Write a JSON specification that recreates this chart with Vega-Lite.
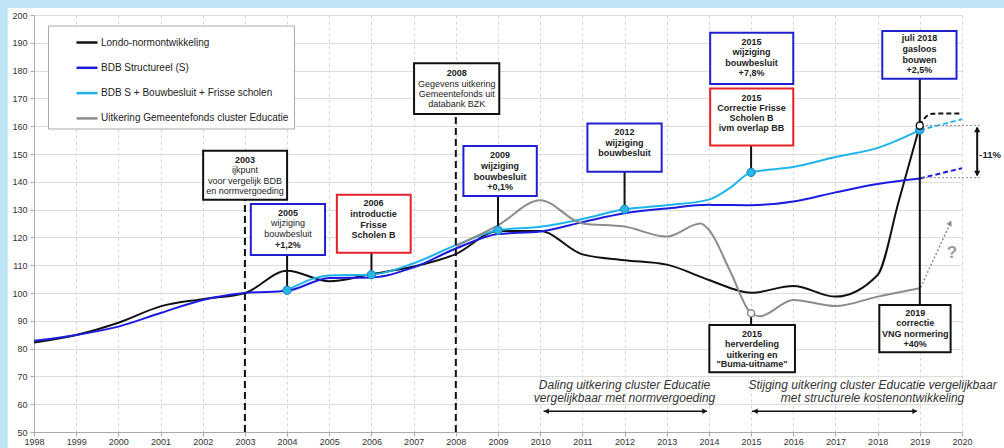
{
  "$schema": "https://vega.github.io/schema/vega-lite/v6.json",
  "width": 928,
  "height": 417,
  "autosize": "none",
  "padding": {"left": 34, "top": 15, "right": 42, "bottom": 16},
  "background": "white",
  "config": {
    "view": {"stroke": null},
    "font": "Liberation Sans",
    "axisX": {
      "values": [1998, 1999, 2000, 2001, 2002, 2003, 2004, 2005, 2006, 2007, 2008, 2009, 2010, 2011, 2012, 2013, 2014, 2015, 2016, 2017, 2018, 2019, 2020],
      "format": "d", "grid": true, "gridDash": [3, 3], "gridColor": "#d4d4d4",
      "labelFontSize": 9, "labelColor": "#333333", "tickColor": "#aaaaaa",
      "domainColor": "#aaaaaa", "tickSize": 4, "labelPadding": 1, "labelFlush": false
    },
    "axisY": {
      "values": [50, 60, 70, 80, 90, 100, 110, 120, 130, 140, 150, 160, 170, 180, 190, 200],
      "grid": true, "gridColor": "#dddddd",
      "labelFontSize": 9, "labelColor": "#333333", "tickColor": "#aaaaaa",
      "domainColor": "#aaaaaa", "tickSize": 4, "labelPadding": 3
    },
    "legend": {
      "orient": "none",
      "legendX": 14,
      "legendY": 10.5,
      "fillColor": "white",
      "strokeColor": "#aaaaaa",
      "padding": 5,
      "symbolType": "stroke",
      "symbolStrokeWidth": 2.5,
      "symbolSize": 441,
      "symbolOffset": 22,
      "labelFontSize": 10,
      "labelColor": "#222222",
      "labelOffset": 2,
      "rowPadding": 8.3,
      "labelLimit": 400
    }
  },
  "datasets": {
    "frame": [
      {"x": 1996, "x2": 2021.5, "y": 202.5, "y2": 212},
      {"x": 1996, "x2": 1997.38, "y": 40, "y2": 212}
    ],
    "vlines": [
      {"x": 2003, "y": 50, "y2": 133.5},
      {"x": 2008, "y": 50, "y2": 164.4}
    ],
    "series": [
      {"series": "Londo-normontwikkeling", "year": 1998, "value": 82.2},
      {"series": "Londo-normontwikkeling", "year": 1999, "value": 84.9},
      {"series": "Londo-normontwikkeling", "year": 2000, "value": 89.3},
      {"series": "Londo-normontwikkeling", "year": 2001, "value": 95.2},
      {"series": "Londo-normontwikkeling", "year": 2002, "value": 97.8},
      {"series": "Londo-normontwikkeling", "year": 2003, "value": 100},
      {"series": "Londo-normontwikkeling", "year": 2004, "value": 108},
      {"series": "Londo-normontwikkeling", "year": 2005, "value": 104.2},
      {"series": "Londo-normontwikkeling", "year": 2006, "value": 106.8},
      {"series": "Londo-normontwikkeling", "year": 2007, "value": 109.5},
      {"series": "Londo-normontwikkeling", "year": 2008, "value": 114},
      {"series": "Londo-normontwikkeling", "year": 2009, "value": 122.3},
      {"series": "Londo-normontwikkeling", "year": 2010, "value": 122.3},
      {"series": "Londo-normontwikkeling", "year": 2011, "value": 113.9},
      {"series": "Londo-normontwikkeling", "year": 2012, "value": 111.8},
      {"series": "Londo-normontwikkeling", "year": 2013, "value": 110.2},
      {"series": "Londo-normontwikkeling", "year": 2014, "value": 104.7},
      {"series": "Londo-normontwikkeling", "year": 2015, "value": 100.1},
      {"series": "Londo-normontwikkeling", "year": 2016, "value": 102.5},
      {"series": "Londo-normontwikkeling", "year": 2017, "value": 98.7},
      {"series": "Londo-normontwikkeling", "year": 2018, "value": 106.5},
      {"series": "Londo-normontwikkeling", "year": 2018.5, "value": 133},
      {"series": "Londo-normontwikkeling", "year": 2019, "value": 160.2},
      {"series": "BDB Structureel (S)", "year": 1998, "value": 82.8},
      {"series": "BDB Structureel (S)", "year": 1999, "value": 84.9},
      {"series": "BDB Structureel (S)", "year": 2000, "value": 87.9},
      {"series": "BDB Structureel (S)", "year": 2001, "value": 92.8},
      {"series": "BDB Structureel (S)", "year": 2002, "value": 97.5},
      {"series": "BDB Structureel (S)", "year": 2003, "value": 100},
      {"series": "BDB Structureel (S)", "year": 2004, "value": 100.8},
      {"series": "BDB Structureel (S)", "year": 2005, "value": 105.4},
      {"series": "BDB Structureel (S)", "year": 2006, "value": 105.6},
      {"series": "BDB Structureel (S)", "year": 2007, "value": 109.2},
      {"series": "BDB Structureel (S)", "year": 2008, "value": 116},
      {"series": "BDB Structureel (S)", "year": 2009, "value": 121.2},
      {"series": "BDB Structureel (S)", "year": 2010, "value": 122.1},
      {"series": "BDB Structureel (S)", "year": 2011, "value": 125.5},
      {"series": "BDB Structureel (S)", "year": 2012, "value": 128.7},
      {"series": "BDB Structureel (S)", "year": 2013, "value": 130.4},
      {"series": "BDB Structureel (S)", "year": 2014, "value": 131.7},
      {"series": "BDB Structureel (S)", "year": 2015, "value": 131.6},
      {"series": "BDB Structureel (S)", "year": 2016, "value": 132.9},
      {"series": "BDB Structureel (S)", "year": 2017, "value": 136.2},
      {"series": "BDB Structureel (S)", "year": 2018, "value": 139.2},
      {"series": "BDB Structureel (S)", "year": 2019, "value": 141.2},
      {"series": "BDB S + Bouwbesluit + Frisse scholen", "year": 2004, "value": 101},
      {"series": "BDB S + Bouwbesluit + Frisse scholen", "year": 2005, "value": 106.3},
      {"series": "BDB S + Bouwbesluit + Frisse scholen", "year": 2006, "value": 106.6},
      {"series": "BDB S + Bouwbesluit + Frisse scholen", "year": 2007, "value": 110.7},
      {"series": "BDB S + Bouwbesluit + Frisse scholen", "year": 2008, "value": 117.2},
      {"series": "BDB S + Bouwbesluit + Frisse scholen", "year": 2009, "value": 122.6},
      {"series": "BDB S + Bouwbesluit + Frisse scholen", "year": 2010, "value": 123.8},
      {"series": "BDB S + Bouwbesluit + Frisse scholen", "year": 2011, "value": 126.6},
      {"series": "BDB S + Bouwbesluit + Frisse scholen", "year": 2012, "value": 130.1},
      {"series": "BDB S + Bouwbesluit + Frisse scholen", "year": 2013, "value": 131.6},
      {"series": "BDB S + Bouwbesluit + Frisse scholen", "year": 2014, "value": 133.6},
      {"series": "BDB S + Bouwbesluit + Frisse scholen", "year": 2014.5, "value": 137.8},
      {"series": "BDB S + Bouwbesluit + Frisse scholen", "year": 2015, "value": 143.4},
      {"series": "BDB S + Bouwbesluit + Frisse scholen", "year": 2016, "value": 145.3},
      {"series": "BDB S + Bouwbesluit + Frisse scholen", "year": 2017, "value": 148.9},
      {"series": "BDB S + Bouwbesluit + Frisse scholen", "year": 2018, "value": 152.2},
      {"series": "BDB S + Bouwbesluit + Frisse scholen", "year": 2019, "value": 158.6},
      {"series": "Uitkering Gemeentefonds cluster Educatie", "year": 2008, "value": 116.9},
      {"series": "Uitkering Gemeentefonds cluster Educatie", "year": 2009, "value": 124.3},
      {"series": "Uitkering Gemeentefonds cluster Educatie", "year": 2010, "value": 133.4},
      {"series": "Uitkering Gemeentefonds cluster Educatie", "year": 2011, "value": 125},
      {"series": "Uitkering Gemeentefonds cluster Educatie", "year": 2012, "value": 123.9},
      {"series": "Uitkering Gemeentefonds cluster Educatie", "year": 2013, "value": 120.3},
      {"series": "Uitkering Gemeentefonds cluster Educatie", "year": 2013.8, "value": 125},
      {"series": "Uitkering Gemeentefonds cluster Educatie", "year": 2014, "value": 122.7},
      {"series": "Uitkering Gemeentefonds cluster Educatie", "year": 2014.5, "value": 108},
      {"series": "Uitkering Gemeentefonds cluster Educatie", "year": 2015, "value": 92.7},
      {"series": "Uitkering Gemeentefonds cluster Educatie", "year": 2015.2, "value": 91.6},
      {"series": "Uitkering Gemeentefonds cluster Educatie", "year": 2016, "value": 97.5},
      {"series": "Uitkering Gemeentefonds cluster Educatie", "year": 2017, "value": 95.3},
      {"series": "Uitkering Gemeentefonds cluster Educatie", "year": 2018, "value": 98.7},
      {"series": "Uitkering Gemeentefonds cluster Educatie", "year": 2019, "value": 101.7}
    ],
    "ext": [
      {"series": "Londo-normontwikkeling", "year": 2019, "value": 160.2},
      {"series": "Londo-normontwikkeling", "year": 2019.12, "value": 163},
      {"series": "Londo-normontwikkeling", "year": 2019.3, "value": 164.5},
      {"series": "Londo-normontwikkeling", "year": 2020, "value": 164.6},
      {"series": "BDB Structureel (S)", "year": 2019, "value": 141.2},
      {"series": "BDB Structureel (S)", "year": 2020, "value": 144.9},
      {"series": "BDB S + Bouwbesluit + Frisse scholen", "year": 2019, "value": 158.6},
      {"series": "BDB S + Bouwbesluit + Frisse scholen", "year": 2020, "value": 162.5}
    ],
    "grayArrow": [
      {"x": 2019.02, "y": 102},
      {"x": 2019.72, "y": 125}
    ],
    "grayArrowHead": [{"x": 2019.72, "y": 125.2}],
    "connectors": [
      {"x": 2004, "y": 113.7, "y2": 101},
      {"x": 2006, "y": 114.5, "y2": 106.6},
      {"x": 2009, "y": 134.9, "y2": 122.6},
      {"x": 2012, "y": 143.6, "y2": 130.1},
      {"x": 2015, "y": 153.1, "y2": 143.4},
      {"x": 2019, "y": 177.1, "y2": 95.7},
      {"x": 2015, "y": 88.5, "y2": 92.7}
    ],
    "dots": [
      {"x": 2004, "y": 101},
      {"x": 2006, "y": 106.6},
      {"x": 2009, "y": 122.6},
      {"x": 2012, "y": 130.1},
      {"x": 2015, "y": 143.4},
      {"x": 2019, "y": 158.6}
    ],
    "openDotGray": [{"x": 2015, "y": 92.7}],
    "openDotBlack": [{"x": 2019, "y": 160.2}],
    "boxes": [
      {"x": 2002.01, "x2": 2004.0, "y": 151.2, "y2": 133.5, "type": "overig"},
      {"x": 2003.14, "x2": 2004.9, "y": 132.0, "y2": 113.7, "type": "bouwbesluit"},
      {"x": 2005.18, "x2": 2006.93, "y": 135.3, "y2": 114.5, "type": "frisse scholen"},
      {"x": 2007.01, "x2": 2009.03, "y": 182.6, "y2": 164.4, "type": "overig"},
      {"x": 2008.18, "x2": 2009.92, "y": 152.9, "y2": 134.9, "type": "bouwbesluit"},
      {"x": 2011.12, "x2": 2012.88, "y": 161.0, "y2": 143.6, "type": "bouwbesluit"},
      {"x": 2014.03, "x2": 2016.0, "y": 193.6, "y2": 175.2, "type": "bouwbesluit"},
      {"x": 2014.03, "x2": 2016.0, "y": 173.6, "y2": 153.1, "type": "frisse scholen"},
      {"x": 2018.11, "x2": 2019.87, "y": 194.2, "y2": 177.1, "type": "bouwbesluit"},
      {"x": 2014.01, "x2": 2016.04, "y": 88.5, "y2": 71.5, "type": "overig"},
      {"x": 2018.04, "x2": 2019.73, "y": 95.7, "y2": 78.7, "type": "overig"}
    ],
    "textBold": [
      {"x": 2003.0, "y": 148.0, "text": "2003"},
      {"x": 2004.02, "y": 128.9, "text": "2005"},
      {"x": 2004.02, "y": 117.2, "text": "+1,2%"},
      {"x": 2006.05, "y": 132.3, "text": "2006"},
      {"x": 2006.05, "y": 128.4, "text": "introductie"},
      {"x": 2006.05, "y": 124.6, "text": "Frisse"},
      {"x": 2006.05, "y": 120.8, "text": "Scholen B"},
      {"x": 2008.02, "y": 179.0, "text": "2008"},
      {"x": 2009.05, "y": 149.6, "text": "2009"},
      {"x": 2009.05, "y": 145.7, "text": "wijziging"},
      {"x": 2009.05, "y": 141.8, "text": "bouwbesluit"},
      {"x": 2009.05, "y": 138.0, "text": "+0,1%"},
      {"x": 2012.0, "y": 158.0, "text": "2012"},
      {"x": 2012.0, "y": 154.1, "text": "wijziging"},
      {"x": 2012.0, "y": 150.5, "text": "bouwbesluit"},
      {"x": 2015.01, "y": 190.4, "text": "2015"},
      {"x": 2015.01, "y": 186.6, "text": "wijziging"},
      {"x": 2015.01, "y": 182.9, "text": "bouwbesluit"},
      {"x": 2015.01, "y": 179.2, "text": "+7,8%"},
      {"x": 2015.01, "y": 170.3, "text": "2015"},
      {"x": 2015.01, "y": 166.7, "text": "Correctie Frisse"},
      {"x": 2015.01, "y": 163.1, "text": "Scholen B"},
      {"x": 2015.01, "y": 159.2, "text": "ivm overlap BB"},
      {"x": 2018.99, "y": 191.6, "text": "juli 2018"},
      {"x": 2018.99, "y": 187.8, "text": "gasloos"},
      {"x": 2018.99, "y": 183.8, "text": "bouwen"},
      {"x": 2018.99, "y": 180.2, "text": "+2,5%"},
      {"x": 2015.02, "y": 85.3, "text": "2015"},
      {"x": 2015.02, "y": 81.7, "text": "herverdeling"},
      {"x": 2015.02, "y": 77.8, "text": "uitkering en"},
      {"x": 2015.02, "y": 74.4, "text": "\"Buma-uitname\""},
      {"x": 2018.89, "y": 92.7, "text": "2019"},
      {"x": 2018.89, "y": 89.1, "text": "correctie"},
      {"x": 2018.89, "y": 85.3, "text": "VNG normering"},
      {"x": 2018.89, "y": 81.5, "text": "+40%"}
    ],
    "textRegular": [
      {"x": 2003.0, "y": 144.2, "text": "ijkpunt"},
      {"x": 2003.0, "y": 140.4, "text": "voor vergelijk  BDB"},
      {"x": 2003.0, "y": 136.7, "text": "en normvergoeding"},
      {"x": 2004.02, "y": 125.1, "text": "wijziging"},
      {"x": 2004.02, "y": 121.2, "text": "bouwbesluit"},
      {"x": 2008.02, "y": 175.2, "text": "Gegevens  uitkering"},
      {"x": 2008.02, "y": 171.6, "text": "Gemeentefonds uit"},
      {"x": 2008.02, "y": 168.0, "text": "databank  BZK"}
    ],
    "bracketH": [
      {"x": 2019.05, "x2": 2020.42, "y": 160.3},
      {"x": 2019.05, "x2": 2020.42, "y": 141.5}
    ],
    "bracketV": [{"x": 2020.36, "y": 142.3, "y2": 159.5}],
    "headsUp": [{"x": 2020.36, "y": 158.8}],
    "headsDown": [{"x": 2020.36, "y": 143.0}],
    "pct": [{"x": 2020.41, "y": 149.6, "text": "-11%"}],
    "spans": [
      {"x": 2010.08, "x2": 2013.95, "y": 57.5},
      {"x": 2015.02, "x2": 2018.93, "y": 57.5}
    ],
    "headsLeft": [{"x": 2010.15, "y": 57.5}, {"x": 2015.1, "y": 57.5}],
    "headsRight": [{"x": 2013.9, "y": 57.5}, {"x": 2018.88, "y": 57.5}],
    "notes": [
      {"x": 2012.0, "y": 66.9, "text": "Daling uitkering cluster Educatie"},
      {"x": 2012.0, "y": 62.1, "text": "vergelijkbaar met normvergoeding"},
      {"x": 2017.88, "y": 66.9, "text": "Stijging uitkering cluster Educatie vergelijkbaar"},
      {"x": 2017.88, "y": 62.1, "text": "met structurele kostenontwikkeling"}
    ],
    "question": [{"x": 2019.76, "y": 114.3, "text": "?"}]
  },
  "layer": [
    {
      "data": {"name": "series"},
      "mark": {"type": "line", "interpolate": "monotone", "strokeWidth": 2},
      "encoding": {
        "x": {"field": "year", "type": "quantitative", "title": null, "scale": {"domain": [1998, 2020], "nice": false, "zero": false}},
        "y": {"field": "value", "type": "quantitative", "title": null, "scale": {"domain": [50, 200], "nice": false, "zero": false}},
        "color": {
          "field": "series", "type": "nominal",
          "scale": {
            "domain": ["Londo-normontwikkeling", "BDB Structureel (S)", "BDB S + Bouwbesluit + Frisse scholen", "Uitkering Gemeentefonds cluster Educatie"],
            "range": ["#111111", "#1c1ce0", "#1db4ec", "#8c8c8c"]
          },
          "legend": {"title": null}
        }
      }
    },
    {
      "data": {"name": "frame"},
      "mark": {"type": "rect", "color": "#bee4f6"},
      "encoding": {
        "x": {"field": "x", "type": "quantitative", "title": null},
        "x2": {"field": "x2"},
        "y": {"field": "y", "type": "quantitative", "title": null},
        "y2": {"field": "y2"}
      }
    },
    {
      "data": {"name": "vlines"},
      "mark": {"type": "rule", "color": "#111111", "strokeWidth": 2, "strokeDash": [7, 4]},
      "encoding": {
        "x": {"field": "x", "type": "quantitative", "title": null},
        "y": {"field": "y", "type": "quantitative", "title": null},
        "y2": {"field": "y2"}
      }
    },
    {
      "data": {"name": "ext"},
      "mark": {"type": "line", "interpolate": "monotone", "strokeWidth": 2, "strokeDash": [5, 3]},
      "encoding": {
        "x": {"field": "year", "type": "quantitative", "title": null},
        "y": {"field": "value", "type": "quantitative", "title": null},
        "color": {"field": "series", "type": "nominal", "legend": null}
      }
    },
    {
      "data": {"name": "grayArrow"},
      "mark": {"type": "line", "color": "#8c8c8c", "strokeWidth": 1.5, "strokeDash": [2, 2]},
      "encoding": {
        "x": {"field": "x", "type": "quantitative", "title": null},
        "y": {"field": "y", "type": "quantitative", "title": null}
      }
    },
    {
      "data": {"name": "grayArrowHead"},
      "mark": {"type": "point", "shape": "triangle-up", "filled": true, "color": "#8c8c8c", "size": 35, "angle": 25, "opacity": 1},
      "encoding": {
        "x": {"field": "x", "type": "quantitative", "title": null},
        "y": {"field": "y", "type": "quantitative", "title": null}
      }
    },
    {
      "data": {"name": "connectors"},
      "mark": {"type": "rule", "color": "#111111", "strokeWidth": 2},
      "encoding": {
        "x": {"field": "x", "type": "quantitative", "title": null},
        "y": {"field": "y", "type": "quantitative", "title": null},
        "y2": {"field": "y2"}
      }
    },
    {
      "data": {"name": "dots"},
      "mark": {"type": "point", "filled": true, "fill": "#29b6ea", "stroke": "#1583b5", "strokeWidth": 1, "size": 70, "opacity": 1},
      "encoding": {
        "x": {"field": "x", "type": "quantitative", "title": null},
        "y": {"field": "y", "type": "quantitative", "title": null}
      }
    },
    {
      "data": {"name": "openDotGray"},
      "mark": {"type": "point", "fill": "white", "stroke": "#8c8c8c", "strokeWidth": 1.5, "size": 50, "opacity": 1},
      "encoding": {
        "x": {"field": "x", "type": "quantitative", "title": null},
        "y": {"field": "y", "type": "quantitative", "title": null}
      }
    },
    {
      "data": {"name": "openDotBlack"},
      "mark": {"type": "point", "fill": "white", "stroke": "#111111", "strokeWidth": 1.5, "size": 50, "opacity": 1},
      "encoding": {
        "x": {"field": "x", "type": "quantitative", "title": null},
        "y": {"field": "y", "type": "quantitative", "title": null}
      }
    },
    {
      "data": {"name": "boxes"},
      "mark": {"type": "rect", "fill": "white", "strokeWidth": 2},
      "encoding": {
        "x": {"field": "x", "type": "quantitative", "title": null},
        "x2": {"field": "x2"},
        "y": {"field": "y", "type": "quantitative", "title": null},
        "y2": {"field": "y2"},
        "stroke": {"field": "type", "type": "nominal", "scale": {"domain": ["overig", "bouwbesluit", "frisse scholen"], "range": ["#111111", "#2020d0", "#e5222a"]}, "legend": null}
      }
    },
    {
      "data": {"name": "textBold"},
      "mark": {"type": "text", "fontSize": 9, "fontWeight": "bold", "color": "#222222", "baseline": "middle", "align": "center"},
      "encoding": {
        "x": {"field": "x", "type": "quantitative", "title": null},
        "y": {"field": "y", "type": "quantitative", "title": null},
        "text": {"field": "text"}
      }
    },
    {
      "data": {"name": "textRegular"},
      "mark": {"type": "text", "fontSize": 9, "color": "#222222", "baseline": "middle", "align": "center"},
      "encoding": {
        "x": {"field": "x", "type": "quantitative", "title": null},
        "y": {"field": "y", "type": "quantitative", "title": null},
        "text": {"field": "text"}
      }
    },
    {
      "data": {"name": "bracketH"},
      "mark": {"type": "rule", "color": "#888888", "strokeWidth": 1, "strokeDash": [2, 2]},
      "encoding": {
        "x": {"field": "x", "type": "quantitative", "title": null},
        "x2": {"field": "x2"},
        "y": {"field": "y", "type": "quantitative", "title": null}
      }
    },
    {
      "data": {"name": "bracketV"},
      "mark": {"type": "rule", "color": "#111111", "strokeWidth": 2},
      "encoding": {
        "x": {"field": "x", "type": "quantitative", "title": null},
        "y": {"field": "y", "type": "quantitative", "title": null},
        "y2": {"field": "y2"}
      }
    },
    {
      "data": {"name": "headsUp"},
      "mark": {"type": "point", "shape": "triangle-up", "filled": true, "color": "#111111", "size": 40, "opacity": 1},
      "encoding": {
        "x": {"field": "x", "type": "quantitative", "title": null},
        "y": {"field": "y", "type": "quantitative", "title": null}
      }
    },
    {
      "data": {"name": "headsDown"},
      "mark": {"type": "point", "shape": "triangle-down", "filled": true, "color": "#111111", "size": 40, "opacity": 1},
      "encoding": {
        "x": {"field": "x", "type": "quantitative", "title": null},
        "y": {"field": "y", "type": "quantitative", "title": null}
      }
    },
    {
      "data": {"name": "pct"},
      "mark": {"type": "text", "fontSize": 9.5, "fontWeight": "bold", "color": "#222222", "align": "left", "baseline": "middle"},
      "encoding": {
        "x": {"field": "x", "type": "quantitative", "title": null},
        "y": {"field": "y", "type": "quantitative", "title": null},
        "text": {"field": "text"}
      }
    },
    {
      "data": {"name": "spans"},
      "mark": {"type": "rule", "color": "#111111", "strokeWidth": 1.5},
      "encoding": {
        "x": {"field": "x", "type": "quantitative", "title": null},
        "x2": {"field": "x2"},
        "y": {"field": "y", "type": "quantitative", "title": null}
      }
    },
    {
      "data": {"name": "headsLeft"},
      "mark": {"type": "point", "shape": "triangle-left", "filled": true, "color": "#111111", "size": 30, "opacity": 1},
      "encoding": {
        "x": {"field": "x", "type": "quantitative", "title": null},
        "y": {"field": "y", "type": "quantitative", "title": null}
      }
    },
    {
      "data": {"name": "headsRight"},
      "mark": {"type": "point", "shape": "triangle-right", "filled": true, "color": "#111111", "size": 30, "opacity": 1},
      "encoding": {
        "x": {"field": "x", "type": "quantitative", "title": null},
        "y": {"field": "y", "type": "quantitative", "title": null}
      }
    },
    {
      "data": {"name": "notes"},
      "mark": {"type": "text", "fontSize": 12, "fontStyle": "italic", "color": "#333333", "align": "center", "baseline": "middle"},
      "encoding": {
        "x": {"field": "x", "type": "quantitative", "title": null},
        "y": {"field": "y", "type": "quantitative", "title": null},
        "text": {"field": "text"}
      }
    },
    {
      "data": {"name": "question"},
      "mark": {"type": "text", "fontSize": 17, "fontWeight": "bold", "color": "#9a9a9a", "align": "center", "baseline": "middle"},
      "encoding": {
        "x": {"field": "x", "type": "quantitative", "title": null},
        "y": {"field": "y", "type": "quantitative", "title": null},
        "text": {"field": "text"}
      }
    }
  ]
}
